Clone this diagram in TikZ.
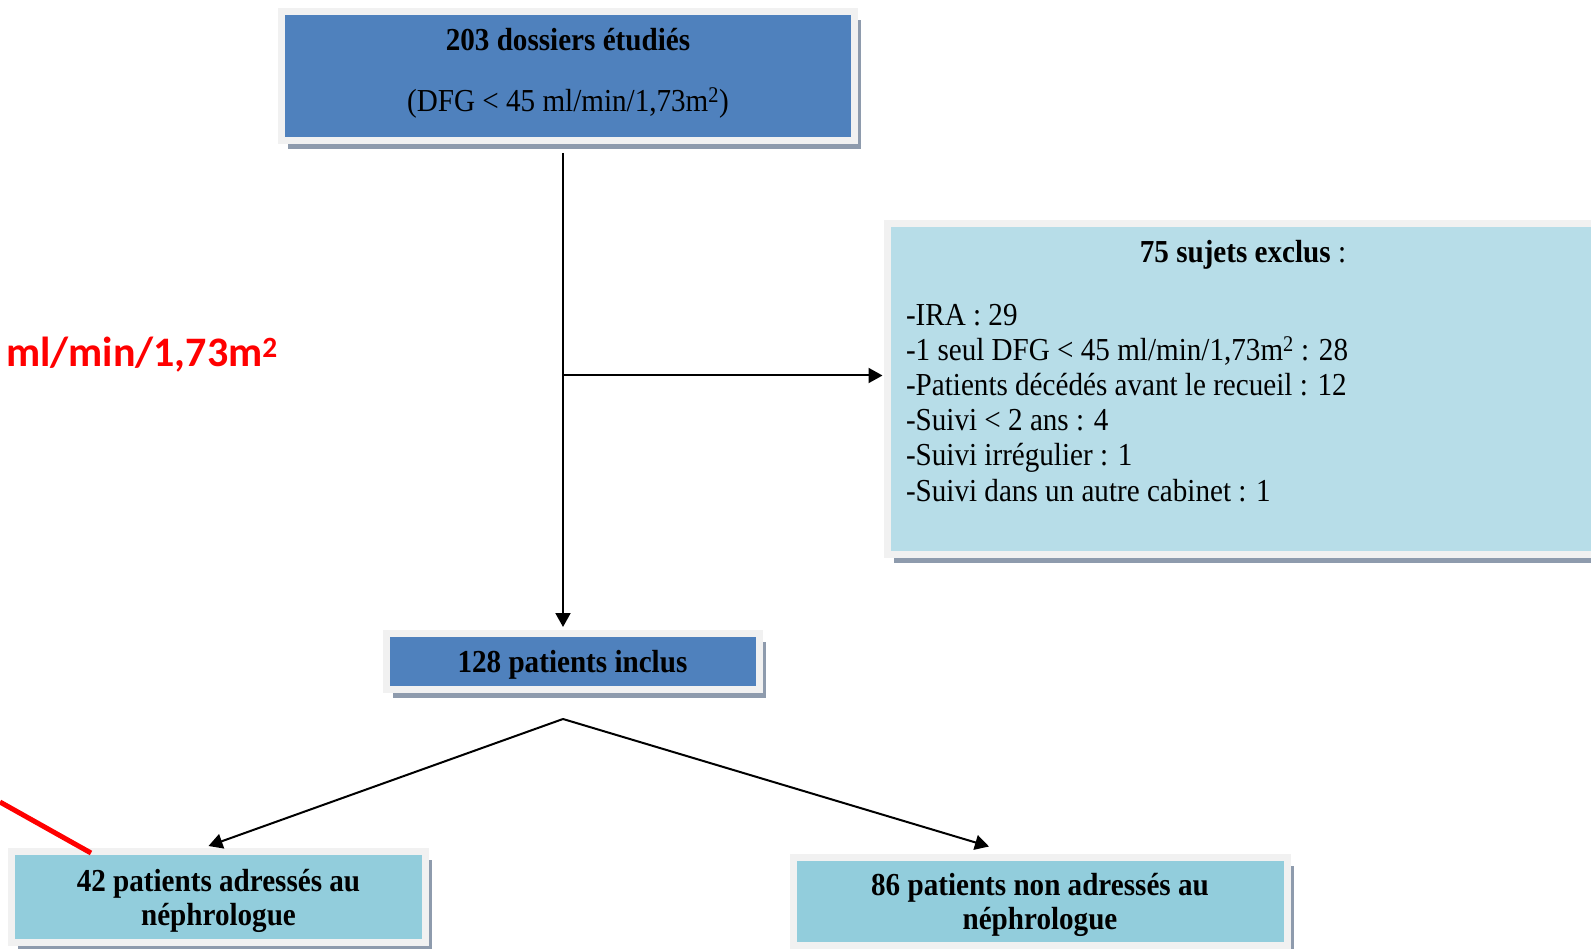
\documentclass[tikz,border=0pt]{standalone}
\usepackage{fontspec}
\setmainfont{Liberation Serif}[FakeStretch=0.91]
\newfontfamily\calib{Carlito}
\usepackage{tikz}
\usetikzlibrary{arrows.meta,calc,positioning,shadows}
\tikzset{
  flowbox/.style = {align=center, inner sep=0pt, draw=my_frame, line width=7pt,
  font=\fontsize{32}{34}\selectfont\bfseries,
  drop shadow={shadow xshift=6.5pt, shadow yshift=-8.5pt, fill=my_shadow, opacity=1}},
  box_dark/.style = {flowbox, fill=my_blue},
  box_light/.style = {flowbox, fill=my_cyan},
  box_pale/.style = {flowbox, fill=my_teal}
}
\definecolor{my_blue}{RGB}{79, 129, 189}
\definecolor{my_cyan}{RGB}{183, 221, 232}
\definecolor{my_teal}{RGB}{146, 205, 220}
\definecolor{my_frame}{RGB}{241, 241, 241}
\definecolor{my_shadow}{RGB}{142, 155, 173}
\definecolor{my_red}{RGB}{255, 0, 0}

\begin{document}
\begin{tikzpicture}[x=1pt,y=-1pt,line width=2pt,
        >={Triangle[length=14pt,width=15pt]},
        plain/.style={inner sep=0pt, font=\fontsize{32}{35.2}\selectfont}]
    \useasboundingbox (0,0) rectangle (1591,949);
    \clip (0,0) rectangle (1591,949);
    % boxes
    \node [box_dark, minimum width=573pt, minimum height=129pt] (dossiers) at (568,76)
        {203 dossiers étudiés\\[27pt]\mdseries (DFG < 45 ml/min/1,73m\textsuperscript{2})\rule[-12pt]{0pt}{1pt}};
    \node [box_light, minimum width=712pt, minimum height=331pt] (exclus) at (1243,389) {};
    \node [plain] (exclus_t) at (1243,255) {\textbf{75 sujets exclus} :};
    \node [plain, anchor=north west, align=left] (exclus_l) at (905,303)
        {-IRA : 29\\
         -1 seul DFG < 45 ml/min/1,73m\textsuperscript{2} : 28\\
         -Patients décédés avant le recueil : 12\\
         -Suivi < 2 ans : 4\\
         -Suivi irrégulier : 1\\
         -Suivi dans un autre cabinet : 1};
    \node [box_dark, minimum width=373pt, minimum height=56pt] (inclus) at (572.5,661.5)
        {\rule{0pt}{28pt}128 patients inclus};
    \node [box_pale, minimum width=414pt, minimum height=91pt] (adresses) at (218.5,897)
        {\rule{0pt}{30pt}42 patients adressés au\\néphrologue};
    \node [box_pale, minimum width=494pt, minimum height=88pt] (non_adresses) at (1040,901)
        {\rule{0pt}{30pt}86 patients non adressés au\\néphrologue};
    \node [inner sep=0pt, anchor=base west, text=my_red,
        font=\calib\bfseries\fontsize{42}{42}\selectfont] (unite) at (5,367)
        {ml/min/1,73m\textsuperscript{2}};
    % connectors
    \coordinate (split) at (563,375.5);
    \coordinate (fork) at (563,719);
    \draw [->, shorten <=9pt, shorten >=3pt] (dossiers.south -| split) -- (split |- inclus.north);
    \draw [->, shorten >=1pt] (split) -- (split -| exclus.west);
    \draw [->] (fork) -- ($(adresses.north)+(-10,-2)$);
    \draw [->] (fork) -- ($(non_adresses.north)+(-51,-7)$);
    % red mark
    \coordinate (trait_a) at (0,802);
    \coordinate (trait_b) at (91,853);
    \draw [my_red, line width=5pt] (trait_a) -- (trait_b);
\end{tikzpicture}
\end{document}
